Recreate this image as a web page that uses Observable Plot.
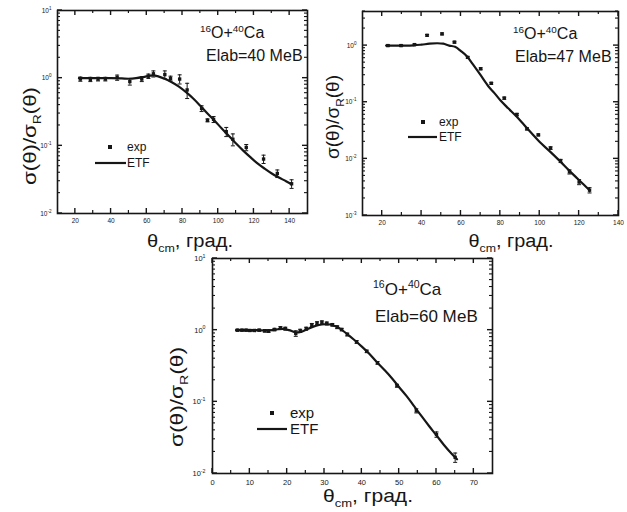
<!DOCTYPE html>
<html><head><meta charset="utf-8">
<script src="https://cdn.jsdelivr.net/npm/d3@7"></script>
<script src="https://cdn.jsdelivr.net/npm/@observablehq/plot@0.6"></script>
<style>
body{margin:0;background:#fff;}
#wrap{position:relative;width:627px;height:512px;overflow:hidden;background:#fff;}
#wrap svg{position:absolute;overflow:visible;}
</style></head><body><div id="wrap"></div>
<script>
// ---------- data: Elab = 40 MeV ----------
const exp40Angle = [22.8, 28.4, 32.7, 36.8, 43.4, 50.5, 57.2, 60.9, 63.7, 70.1, 73.3, 78.4, 82.6, 90.7, 94.0, 97.4, 104.5, 108.2, 115.7, 125.4, 133.1, 141.1];
const exp40Value = [0.97, 0.96, 0.97, 0.97, 1.02, 0.89, 0.97, 1.07, 1.16, 1.13, 0.99, 0.97, 0.67, 0.356, 0.238, 0.246, 0.162, 0.125, 0.0946, 0.0638, 0.039, 0.0275];
const exp40Error = [0.07, 0.07, 0.06, 0.06, 0.09, 0.1, 0.08, 0.08, 0.12, 0.15, 0.08, 0.15, 0.17, 0.035, 0.012, 0.025, 0.025, 0.025, 0.01, 0.009, 0.005, 0.004];
const etf40Angle = [22, 30, 40, 46, 50, 54, 58, 62, 64, 66, 70, 74, 78, 82, 86, 90, 94, 98, 102, 106, 110, 114, 118, 122, 126, 130, 134, 138, 141];
const etf40Value = [1.0, 1.0, 1.0, 0.99, 0.98, 1.0, 1.04, 1.09, 1.1, 1.07, 0.98, 0.87, 0.75, 0.62, 0.5, 0.39, 0.3, 0.235, 0.18, 0.14, 0.108, 0.085, 0.068, 0.055, 0.046, 0.039, 0.034, 0.030, 0.027];

// ---------- data: Elab = 47 MeV ----------
const exp47Angle = [22.9, 29.6, 36.4, 42.8, 50.4, 56.7, 63.4, 70.0, 75.4, 82.0, 88.4, 93.5, 99.3, 105.5, 110.6, 115.1, 120.0, 125.3];
const exp47Value = [1.0, 1.0, 1.04, 1.52, 1.61, 1.15, 0.62, 0.39, 0.216, 0.118, 0.0606, 0.0339, 0.0265, 0.0155, 0.0092, 0.0059, 0.0039, 0.0028];
const exp47Error = [0.03, 0.03, 0.03, 0.05, 0.06, 0.04, 0.02, 0.015, 0.008, 0.005, 0.003, 0.0015, 0.001, 0.0008, 0.0006, 0.0005, 0.0004, 0.0003];
const etf47Angle = [22, 30, 36, 40, 44, 48, 51, 54, 57, 60, 63, 66, 70, 74, 77, 80, 84, 88, 92, 96, 100, 105, 110, 115, 120, 125.3];
const etf47Value = [1.0, 1.0, 1.01, 1.04, 1.08, 1.1, 1.08, 1.0, 0.95, 0.8, 0.65, 0.47, 0.3, 0.19, 0.145, 0.108, 0.078, 0.057, 0.04, 0.028, 0.0198, 0.0137, 0.0093, 0.0062, 0.0042, 0.0028];

// ---------- data: Elab = 60 MeV ----------
const exp60Angle = [6.7, 7.9, 9.0, 10.0, 11.2, 12.5, 14.0, 15.0, 16.6, 18.2, 19.5, 22.3, 23.5, 25.1, 26.6, 28.0, 29.3, 30.6, 32.1, 33.4, 34.6, 36.1, 38.6, 41.3, 44.2, 49.4, 54.6, 60.0, 65.0];
const exp60Value = [1.0, 1.0, 1.0, 0.99, 0.99, 1.0, 0.98, 0.97, 1.02, 1.07, 1.05, 0.9, 0.98, 1.05, 1.18, 1.25, 1.28, 1.24, 1.19, 1.1, 1.02, 0.87, 0.685, 0.506, 0.35, 0.168, 0.075, 0.035, 0.0168];
const exp60Error = [0.03, 0.03, 0.03, 0.03, 0.03, 0.03, 0.04, 0.04, 0.04, 0.05, 0.05, 0.08, 0.05, 0.05, 0.06, 0.06, 0.07, 0.06, 0.05, 0.05, 0.04, 0.04, 0.03, 0.02, 0.015, 0.008, 0.005, 0.003, 0.0025];
const etf60Angle = [6.3, 8, 10, 12, 14, 16, 17.5, 19, 20.5, 22, 23, 24, 25.5, 27, 28.5, 30, 31.5, 33, 34.5, 36, 38, 40, 42, 44, 46, 48, 50, 52, 54, 56, 58, 60, 62, 64, 65.5];
const etf60Value = [1.0, 1.0, 1.0, 1.0, 0.99, 1.0, 1.03, 1.04, 1.0, 0.94, 0.93, 0.96, 1.04, 1.12, 1.18, 1.21, 1.2, 1.13, 1.02, 0.89, 0.73, 0.59, 0.47, 0.36, 0.28, 0.215, 0.16, 0.12, 0.087, 0.063, 0.046, 0.034, 0.025, 0.019, 0.0158];

// ---------- tick values ----------
const ticksX40 = [20, 40, 60, 80, 100, 120, 140];
const minorX40 = [30, 50, 70, 90, 110, 130];
const ticksX47 = [20, 40, 60, 80, 100, 120, 140];
const minorX47 = [30, 50, 70, 90, 110, 130];
const ticksX60 = [0, 10, 20, 30, 40, 50, 60, 70];
const minorX60 = [5, 15, 25, 35, 45, 55, 65];
const ticksY40 = [0.01, 0.1, 1, 10];
const ticksY47 = [0.001, 0.01, 0.1, 1];
const ticksY60 = [0.01, 0.1, 1, 10];

const titleLine1 = [["16", "sup"], ["O+", ""], ["40", "sup"], ["Ca", ""]];
const yLabel = [["σ(θ)/σ", ""], ["R", "sub"], ["(θ)", ""]];
const xLabel = [["θ", ""], ["cm", "sub"], [", град.", ""]];
const legendExp = "exp";
const legendEtf = "ETF";

const FONT = '"Liberation Sans", Arial, Helvetica, sans-serif';
const INK = "#161616";

function minorLog(domain) {
  const out = [];
  const lo = Math.floor(Math.log10(domain[0])), hi = Math.ceil(Math.log10(domain[1]));
  for (let e = lo; e < hi; e++) for (let m = 2; m <= 9; m++) {
    const v = m * Math.pow(10, e);
    if (v > domain[0] && v <= domain[1] * 1.0001) out.push(v);
  }
  return out;
}

const capSymbol = {draw(ctx, size) { const w = Math.sqrt(size / Math.PI); ctx.moveTo(-w, 0); ctx.lineTo(w, 0); }};

function rich(g, x, y, segs, size, anchor = "start", len = null) {
  const t = g.append("text").attr("x", x).attr("y", y).attr("font-size", size)
    .attr("text-anchor", anchor).attr("fill", INK).attr("font-family", FONT);
  if (len) t.attr("textLength", len).attr("lengthAdjust", "spacingAndGlyphs");
  let cur = 0;
  for (const [s, k] of segs) {
    const target = k === "sup" ? -0.4 * size : k === "sub" ? 0.28 * size : 0;
    const ts = t.append("tspan").text(s).attr("dy", target - cur);
    if (k) ts.attr("font-size", size * 0.62);
    cur = target;
  }
  return t;
}

// inward ticks on all four sides, placed with the plot's own x and y scales
function drawTicks(svg, s, c, yMinor) {
  const sx = svg.scale("x"), sy = svg.scale("y");
  const top = c.mt, bottom = c.height - c.mb, left = c.ml, right = c.width - c.mr;
  const g = s.append("g").attr("stroke", INK).attr("fill", "none");
  const big = 5, small = 3;
  const xt = (vals, len, w) => vals.forEach(v => {
    const x = sx.apply(v);
    g.append("line").attr("x1", x).attr("x2", x).attr("y1", bottom).attr("y2", bottom - len).attr("stroke-width", w);
    g.append("line").attr("x1", x).attr("x2", x).attr("y1", top).attr("y2", top + len).attr("stroke-width", w);
  });
  const yt = (vals, len, w) => vals.forEach(v => {
    const y = sy.apply(v);
    g.append("line").attr("y1", y).attr("y2", y).attr("x1", left).attr("x2", left + len).attr("stroke-width", w);
    g.append("line").attr("y1", y).attr("y2", y).attr("x1", right).attr("x2", right - len).attr("stroke-width", w);
  });
  xt(c.xMajor, big, 1.4);
  xt(c.xMinor, small, 1.2);
  yt(c.yMajor, big, 1.4);
  yt(yMinor, small, 1.1);
}

function panel(c) {
  const exp = c.expAngle.map((a, i) => ({a, v: c.expValue[i], e: c.expError[i]}));
  const etf = c.etfAngle.map((a, i) => ({a, v: c.etfValue[i]}));
  const yMinor = minorLog(c.yDomain);
  const svg = Plot.plot({
    width: c.width, height: c.height,
    marginTop: c.mt, marginRight: c.mr, marginBottom: c.mb, marginLeft: c.ml,
    x: {domain: c.xDomain},
    y: {type: "log", domain: c.yDomain},
    style: {fontFamily: FONT, fontSize: c.tickFont + "px", color: INK, background: "transparent"},
    marks: [
      Plot.line(etf, {x: "a", y: "v", curve: "catmull-rom", stroke: INK, strokeWidth: 2.2}),
      Plot.ruleX(exp, {x: "a", y1: d => d.v - d.e, y2: d => d.v + d.e, stroke: INK, strokeWidth: 1}),
      Plot.dot(exp, {x: "a", y: d => d.v - d.e, symbol: capSymbol, r: 2, stroke: INK, strokeWidth: 1}),
      Plot.dot(exp, {x: "a", y: d => d.v + d.e, symbol: capSymbol, r: 2, stroke: INK, strokeWidth: 1}),
      Plot.dot(exp, {x: "a", y: "v", symbol: "square", r: 1.9, fill: INK, stroke: "none"}),
      Plot.axisX({anchor: "bottom", ticks: c.xMajor, tickSize: 0, tickPadding: c.xPad, label: null, tickFormat: d => String(d)}),
      Plot.axisY({anchor: "left", ticks: c.yMajor, tickSize: 0, tickPadding: c.yPad, label: null,
        tickFormat: d => "10^" + Math.round(Math.log10(d))}),
      Plot.frame({stroke: INK, strokeWidth: 1.6})
    ]
  });
  svg.style.left = c.left + "px";
  svg.style.top = c.top + "px";
  const s = d3.select(svg);
  s.selectAll("text").each(function () {
    const t = this.textContent;
    if (!t.includes("^")) return;
    const [b, e] = t.split("^");
    const sel = d3.select(this);
    sel.text(b);
    sel.append("tspan").attr("dy", -c.tickFont * 0.45).attr("font-size", c.tickFont * 0.7).text(e);
  });
  drawTicks(svg, s, c, yMinor);
  const g = s.append("g").attr("text-anchor", "start");
  rich(g, c.t1[0], c.t1[1], titleLine1, c.titleSize);
  rich(g, c.t2[0], c.t2[1], [["Elab=" + c.energy + " ", ""], ["МеВ", ""]], c.titleSize);
  // legend
  g.append("rect").attr("x", c.lgSq[0] - 2).attr("y", c.lgSq[1] - 2).attr("width", 4).attr("height", 4).attr("fill", INK);
  g.append("text").attr("x", c.lgTx).attr("y", c.lgSq[1] + c.legendSize * 0.35).attr("font-size", c.legendSize)
    .attr("text-anchor", "start").attr("font-family", FONT).attr("fill", INK).text(legendExp);
  g.append("line").attr("x1", c.lgLn[0]).attr("x2", c.lgLn[1]).attr("y1", c.lgLn[2]).attr("y2", c.lgLn[2])
    .attr("stroke", INK).attr("stroke-width", 2.2);
  g.append("text").attr("x", c.lgTx).attr("y", c.lgLn[2] + c.legendSize * 0.36).attr("font-size", c.legendSize)
    .attr("text-anchor", "start").attr("font-family", FONT).attr("fill", INK).text(legendEtf);
  // axis labels
  rich(g, c.xl[0], c.xl[1], xLabel, c.labelSize, "middle", c.xl[2]);
  const gy = g.append("g").attr("transform", `translate(${c.yl[0]},${c.yl[1]}) rotate(-90)`);
  rich(gy, 0, 0, yLabel, c.labelSize, "middle", c.yl[2]);
  document.getElementById("wrap").appendChild(svg);
}

panel({
  expAngle: exp40Angle, expValue: exp40Value, expError: exp40Error, etfAngle: etf40Angle, etfValue: etf40Value,
  xDomain: [10, 150], yDomain: [0.01, 10], xMajor: ticksX40, xMinor: minorX40, yMajor: ticksY40,
  left: 0, top: 0, width: 315, height: 255, mt: 10, mr: 8, mb: 42, ml: 57,
  tickFont: 6.5, xPad: 5, yPad: 6, energy: "40", titleSize: 16, t1: [200, 38], t2: [206, 61],
  legendSize: 12, lgSq: [110, 147], lgTx: 127, lgLn: [95, 126, 163],
  labelSize: 18, xl: [190, 247, 86], yl: [36, 136, 98]
});
panel({
  expAngle: exp47Angle, expValue: exp47Value, expError: exp47Error, etfAngle: etf47Angle, etfValue: etf47Value,
  xDomain: [10, 140], yDomain: [0.001, 4], xMajor: ticksX47, xMinor: minorX47, yMajor: ticksY47,
  left: 315, top: 0, width: 312, height: 255, mt: 11, mr: 9, mb: 40, ml: 47,
  tickFont: 6.5, xPad: 5, yPad: 6, energy: "47", titleSize: 16, t1: [198, 39], t2: [200, 62],
  legendSize: 12, lgSq: [108, 122], lgTx: 124, lgLn: [93, 122, 137],
  labelSize: 18, xl: [196, 247, 85], yl: [24, 117, 84]
});
panel({
  expAngle: exp60Angle, expValue: exp60Value, expError: exp60Error, etfAngle: etf60Angle, etfValue: etf60Value,
  xDomain: [0, 75], yDomain: [0.01, 10], xMajor: ticksX60, xMinor: minorX60, yMajor: ticksY60,
  left: 160, top: 250, width: 340, height: 262, mt: 8, mr: 8, mb: 39, ml: 52,
  tickFont: 7.5, xPad: 6, yPad: 7, energy: "60", titleSize: 17, t1: [213, 45], t2: [215, 72],
  legendSize: 15, lgSq: [112, 163], lgTx: 130, lgLn: [97, 127, 179],
  labelSize: 18, xl: [208, 252, 90], yl: [23, 147, 100]
});
</script>
</body></html>
